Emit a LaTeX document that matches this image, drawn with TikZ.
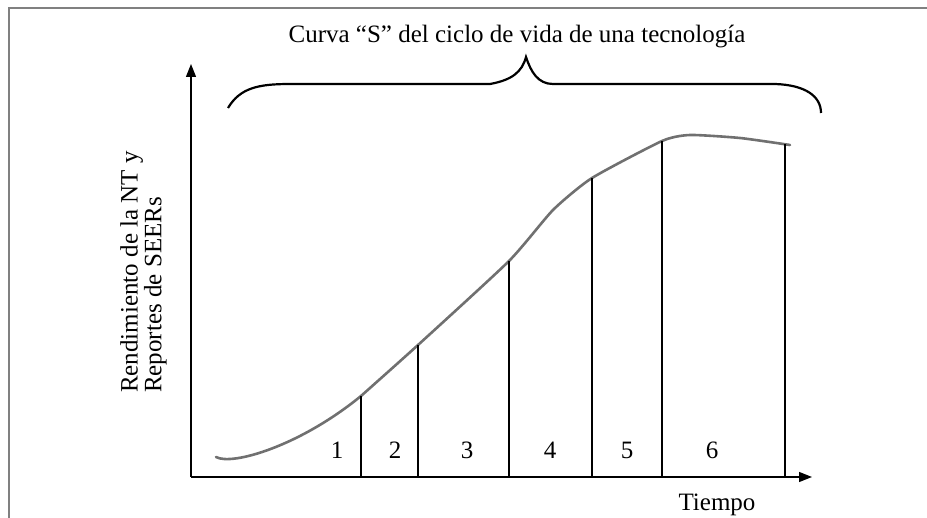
\documentclass[tikz,border=0pt]{standalone}
\usepackage{fontspec}
\setmainfont{Liberation Serif}
\usetikzlibrary{arrows.meta}
\definecolor{framegray}{HTML}{808080}
\definecolor{curvegray}{HTML}{707070}
\tikzset{
  frameline/.style={draw=framegray, line width=1.5pt},
  axis/.style={draw=black, line width=1.4pt, -{Triangle[length=13pt,width=10pt]}},
  divider/.style={draw=black, line width=1.4pt},
  scurve/.style={draw=curvegray, line width=2.6pt, line cap=round},
  bracestyle/.style={draw=black, line width=2.2pt},
  lbl/.style={inner sep=0pt, font=\fontsize{25}{19}\selectfont}
}
\begin{document}
\begin{tikzpicture}[x=1pt,y=-1pt]
\useasboundingbox (0,0) rectangle (927,518);
% frame
\coordinate (fTR) at (927,8);
\coordinate (fTL) at (9,8);
\coordinate (fBL) at (9,518);
\draw[frameline] (fTR) -- (fTL) -- (fBL);
% axes
\coordinate (O) at (191,477);
\coordinate (ytip) at (191,64);
\coordinate (xtip) at (812,477);
\draw[axis] (O) -- (ytip);
\draw[axis] (O) -- (xtip);
% curve points
\coordinate (c0) at (216,457);
\coordinate (c1) at (361,396);
\coordinate (c2) at (418,345);
\coordinate (c3) at (509,261);
\coordinate (c4) at (592,178);
\coordinate (c5) at (662,141);
\coordinate (c6) at (785,144);
\draw[scurve] (c0) .. controls (232,466) and (300,446) .. (c1);
\draw[scurve] plot[smooth, tension=0.35] coordinates {(361,396) (418,345) (509,261) (553,210) (592,178) (662,141) (690,135) (740,138) (790,145)};
% dividers
\foreach \c in {c1,c2,c3,c4,c5,c6}{
  \draw[divider] (\c |- O) -- (\c);
}
% brace
\coordinate (bL) at (228,108);
\coordinate (bL2) at (290,84);
\coordinate (bM1) at (490,84);
\coordinate (bTip) at (526,57);
\coordinate (bM2) at (553,84);
\coordinate (bR2) at (775,84);
\coordinate (bR) at (821,113);
\draw[bracestyle] (bL) .. controls (240,88) and (258,84) .. (bL2) -- (bM1)
  .. controls (512,80) and (522,72) .. (bTip)
  .. controls (531,72) and (538,84) .. (bM2) -- (bR2)
  .. controls (805,85) and (821,96) .. (bR);
% labels
\node[lbl, anchor=base] (title) at (517,43) {Curva “S” del ciclo de vida de una tecnología};
\node[lbl, anchor=base] (tiempo) at (717,511) {Tiempo};
\node[lbl, anchor=base] (n1) at (337,459) {1};
\node[lbl, anchor=base] (n2) at (395,459) {2};
\node[lbl, anchor=base] (n3) at (467,459) {3};
\node[lbl, anchor=base] (n4) at (550,459) {4};
\node[lbl, anchor=base] (n5) at (627,459) {5};
\node[lbl, anchor=base] (n6) at (712,459) {6};
\node[lbl, rotate=90, align=left, anchor=north west] (ylab) at (120,393) {Rendimiento de la NT y\\Reportes de SEERs};
\end{tikzpicture}
\end{document}
